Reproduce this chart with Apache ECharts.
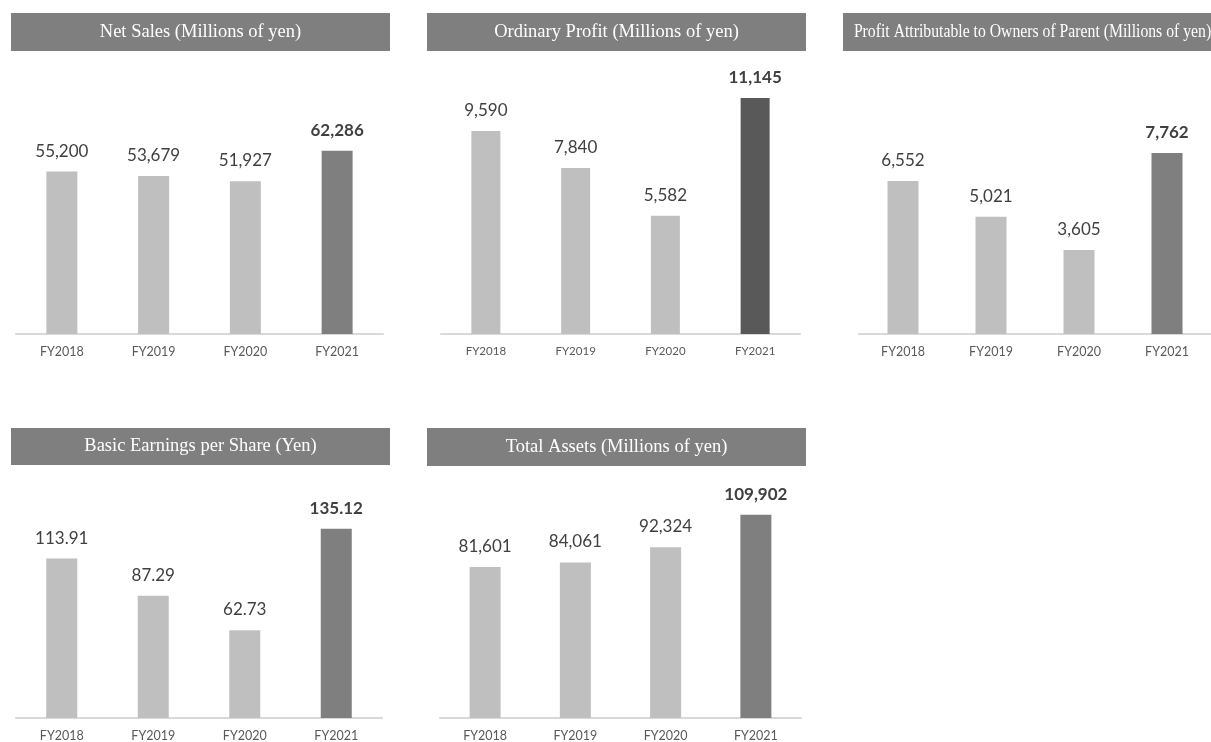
<!DOCTYPE html>
<html>
<head>
<meta charset="utf-8">
<script src="https://cdn.jsdelivr.net/npm/echarts@6/dist/echarts.min.js"></script>
<style>
html,body{margin:0;padding:0;background:#fff;}
#chart{width:1211px;height:742px;}
</style>
</head>
<body>
<div id="chart"></div>
<script>
// ---- data ----
const categories = ['FY2018', 'FY2019', 'FY2020', 'FY2021'];
const netSales = [55200, 53679, 51927, 62286];
const ordinaryProfit = [9590, 7840, 5582, 11145];
const profitOwners = [6552, 5021, 3605, 7762];
const eps = [113.91, 87.29, 62.73, 135.12];
const totalAssets = [81601, 84061, 92324, 109902];
const titles = [
  'Net Sales (Millions of yen)',
  'Ordinary Profit (Millions of yen)',
  'Profit Attributable to Owners of Parent (Millions of yen)',
  'Basic Earnings per Share (Yen)',
  'Total Assets (Millions of yen)'
];

// ---- layout / style ----
const panels = [
  {values: netSales, grid:{left:16, width:367, top:128, height:206}, max:70000, dark:'#7f7f7f', barWidth:31, dec:0, catSize:12.5,
   bar:{x:11,y:13,w:379,h:38}, sx:1},
  {values: ordinaryProfit, grid:{left:441, width:359, top:80, height:254}, max:12000, dark:'#595959', barWidth:29, dec:0, catSize:11.5,
   bar:{x:427,y:13,w:379,h:38}, sx:1},
  {values: profitOwners, grid:{left:859, width:364, top:124, height:210}, max:9000, dark:'#7f7f7f', barWidth:31, dec:0, catSize:12.5,
   bar:{x:843,y:13,w:379,h:38}, sx:0.85},
  {values: eps, grid:{left:16, width:366, top:494, height:224}, max:160, dark:'#7f7f7f', barWidth:31, dec:2, catSize:12.5,
   bar:{x:11,y:428,w:379,h:37}, sx:1},
  {values: totalAssets, grid:{left:440, width:361, top:496, height:223}, max:120000, dark:'#7f7f7f', barWidth:31, dec:0, catSize:12.5,
   bar:{x:427,y:428,w:379,h:38}, sx:1}
];
const light = '#bfbfbf';
const labelFont = 'Lato, "Open Sans", sans-serif';

function fmt(v, dec) {
  return v.toLocaleString('en-US', {minimumFractionDigits: dec, maximumFractionDigits: dec});
}

const grids = [], xAxes = [], yAxes = [], series = [], graphics = [];
panels.forEach((p, k) => {
  grids.push(Object.assign({containLabel:false}, p.grid));
  xAxes.push({
    type:'category', gridIndex:k, data:categories,
    axisLine:{show:true, lineStyle:{color:'#d9d9d9', width:2}},
    axisTick:{show:false},
    axisLabel:{color:'#595959', fontSize:p.catSize, fontFamily:labelFont, margin:11}
  });
  yAxes.push({type:'value', gridIndex:k, min:0, max:p.max, show:false, splitLine:{show:false}});
  series.push({
    type:'bar', xAxisIndex:k, yAxisIndex:k, barWidth:p.barWidth,
    data: p.values.map((v, i) => ({
      value: v,
      itemStyle: {color: i === p.values.length - 1 ? p.dark : light},
      label: {fontWeight: i === p.values.length - 1 ? 'bold' : 'normal'}
    })),
    label:{
      show:true, position:'top', distance:12, color:'#404040',
      fontSize:17, fontFamily:labelFont,
      formatter: (prm) => fmt(prm.value, p.dec)
    },
    animation:false
  });
  graphics.push({
    type:'rect', shape:{x:p.bar.x, y:p.bar.y, width:p.bar.w, height:p.bar.h},
    style:{fill:'#7f7f7f'}, silent:true
  });
  graphics.push({
    type:'text', x:p.bar.x + p.bar.w/2, y:p.bar.y + p.bar.h/2, scaleX:p.sx,
    style:{text:titles[k], x:0, y:0, align:'center', verticalAlign:'middle',
      fill:'#ffffff', font:'18.5px "Liberation Serif", "Times New Roman", serif'},
    silent:true, z:10
  });
});

const chart = echarts.init(document.getElementById('chart'), null, {renderer:'canvas'});
chart.setOption({
  animation:false,
  backgroundColor:'#ffffff',
  grid:grids, xAxis:xAxes, yAxis:yAxes, series:series,
  graphic:{elements:graphics}
});
</script>
</body>
</html>
